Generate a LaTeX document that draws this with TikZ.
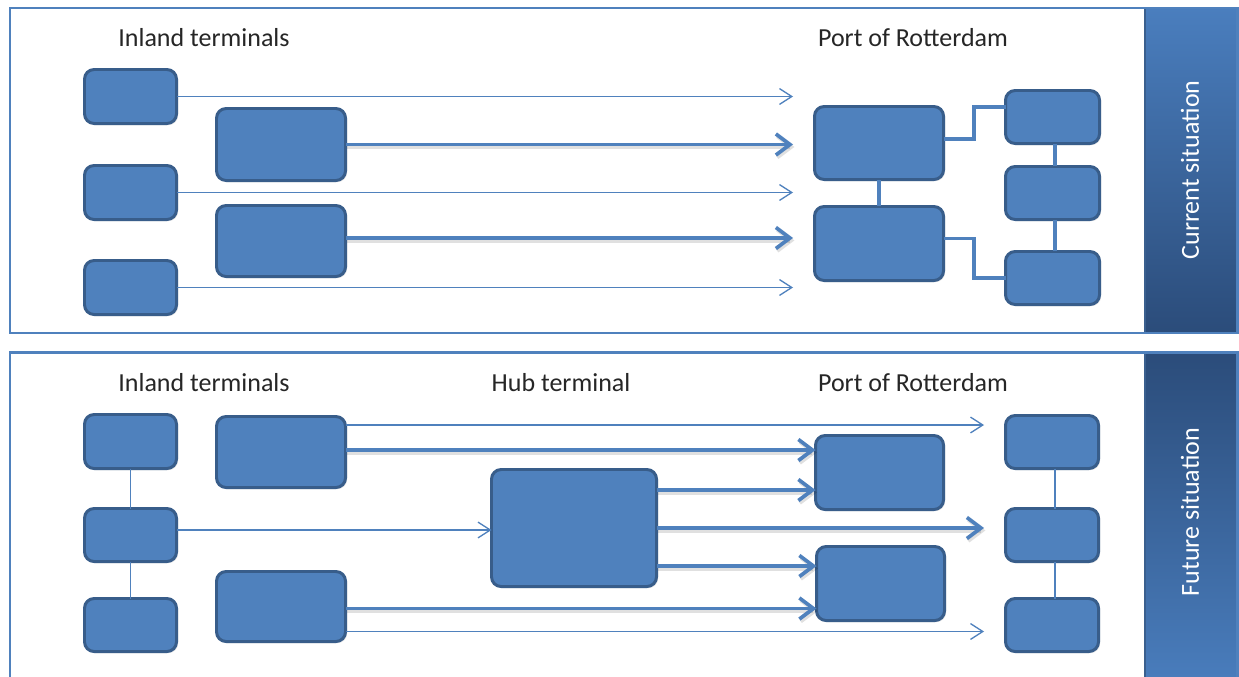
\documentclass[tikz,border=0pt]{standalone}
\usepackage{fontspec}
\setmainfont{Carlito}
\usetikzlibrary{arrows.meta,calc,shadows}
\definecolor{boxfill}{HTML}{4F81BD}
\definecolor{boxedge}{HTML}{385D8A}
\definecolor{linkblue}{HTML}{4F81BD}
\definecolor{barlight}{HTML}{4A7EBE}
\definecolor{bardark}{HTML}{2B4C7A}
\definecolor{baredge}{HTML}{3A5F8E}

% a terminal block: name, centre x, centre y, outer width, outer height (in px units)
\newcommand\termbox[5]{%
  \node[blk, minimum width={#4*0.02cm-1.7pt}, minimum height={#5*0.02cm-1.7pt}] (#1) at (#2,#3) {};}

\begin{document}
\begin{tikzpicture}[x=0.02cm,y=-0.02cm,
  blk/.style={draw=boxedge, fill=boxfill, line width=1.7pt, rounded corners=5.5pt,
    inner sep=0pt, outer sep=0pt,
    drop shadow={opacity=0.22, shadow xshift=0.9pt, shadow yshift=-0.9pt}},
  thinarrow/.style={draw=linkblue, line width=0.75pt,
    -{Straight Barb[length=7pt, width=9pt, line width=0.75pt]}},
  thickarrow/.style={draw=linkblue, line width=2.1pt,
    -{Straight Barb[length=8pt, width=12pt, line width=2.1pt]},
    preaction={draw=black, draw opacity=0.12, line width=2.6pt, transform canvas={xshift=0.8pt, yshift=-1.4pt}}},
  link/.style={draw=linkblue, line width=2.1pt},
  thinlink/.style={draw=linkblue, line width=0.75pt},
  frame/.style={draw=linkblue, line width=1.7pt},
  head/.style={font=\fontsize{14.8pt}{17pt}\selectfont, text=black!85, inner sep=0pt},
  side/.style={font=\fontsize{14.8pt}{17pt}\selectfont, text=white, rotate=90, inner sep=0pt}]

\useasboundingbox (0,0) rectangle (1239,676);
\clip (0,0) rectangle (1239,676);
\fill[white] (0,0) rectangle (1239,676);

% ---------- panel frames with side bars ----------
\shade[top color=barlight, bottom color=bardark] (1145,8) rectangle (1237,333);
\shade[top color=bardark, bottom color=barlight] (1145,352) rectangle (1237,690);
\draw[draw=baredge, line width=1.6pt] (1145,8) -- (1145,333);
\draw[draw=baredge, line width=1.6pt] (1145,352) -- (1145,690);
\draw[frame] (10,8) rectangle (1237,333);
\draw[frame] (10,352) rectangle (1237,690);

\node[side] (cur) at (1190,170) {Current situation};
\node[side] (fut) at (1190,512) {Future situation};

% ---------- current situation ----------
\node[head] (inl1) at (204,38) {Inland terminals};
\node[head] (por1) at (913,38) {Port of Rotterdam};

\termbox{s1}{130.5}{96.5}{95}{57}
\termbox{s2}{130.5}{192.5}{95}{57}
\termbox{s3}{130.5}{287.5}{95}{57}
\termbox{l1}{281}{144.5}{132}{75}
\termbox{l2}{281}{241}{132}{74}
\termbox{p1}{879}{143}{132}{76}
\termbox{p2}{879}{243.5}{132}{77}
\termbox{r1}{1052.5}{117}{97}{56}
\termbox{r2}{1052.5}{193}{97}{56}
\termbox{r3}{1052.5}{278}{97}{56}

\coordinate (tipA) at (793,0);
\draw[thinarrow] (s1.east) -- (s1.east -| tipA);
\draw[thinarrow] (s2.east) -- (s2.east -| tipA);
\draw[thinarrow] (s3.east) -- (s3.east -| tipA);
\draw[thickarrow] (l1.east) -- (l1.east -| tipA);
\draw[thickarrow] ($(l2.east)+(0,-3)$) -- ($(l2.east -| tipA)+(0,-3)$);

\coordinate (jog) at (974,0);
\draw[link] (p1.south) -- (p2.north);
\draw[link] ($(p1.east)+(0,-4)$) -- ($(p1.east -| jog)+(0,-4)$) |- ($(r1.west)+(0,-10)$);
\draw[link] ($(p2.east)+(0,-5)$) -- ($(p2.east -| jog)+(0,-5)$) |- (r3.west);
\draw[link] ($(r1.south)+(2.5,0)$) -- ($(r2.north)+(2.5,0)$);
\draw[link] ($(r2.south)+(2.5,0)$) -- ($(r3.north)+(2.5,0)$);

% ---------- future situation ----------
\node[head] (inl2) at (204,383) {Inland terminals};
\node[head] (hubt) at (561,383) {Hub terminal};
\node[head] (por2) at (913,383) {Port of Rotterdam};

\termbox{s4}{130.5}{441.5}{95}{57}
\termbox{s5}{130.5}{535}{95}{56}
\termbox{s6}{130.5}{625}{95}{56}
\termbox{l3}{281}{452}{132}{74}
\termbox{l4}{281}{606.5}{132}{73}
\termbox{h}{574}{528}{168}{120}
\termbox{p3}{879.5}{472.5}{131}{77}
\termbox{p4}{880.5}{583.5}{131}{77}
\termbox{r4}{1052}{442}{96}{56}
\termbox{r5}{1052}{535}{96}{56}
\termbox{r6}{1052}{625}{96}{56}

\draw[thinlink] (s4.south) -- (s5.north);
\draw[thinlink] (s5.south) -- (s6.north);
\draw[thinlink] ($(r4.south)+(3,0)$) -- ($(r5.north)+(3,0)$);
\draw[thinlink] ($(r5.south)+(3,0)$) -- ($(r6.north)+(3,0)$);

\coordinate (tipB) at (984,0);
\draw[thinarrow] ($(l3.east)+(0,-27)$) -- ($(l3.east -| tipB)+(0,-27)$);
\draw[thickarrow] ($(l3.east)+(0,-2)$) -- ($(l3.east -| p3.west)+(0,-2)$);
\draw[thickarrow] ($(h.east)+(0,-38)$) -- ($(h.east -| p3.west)+(0,-38)$);
\draw[thickarrow] (h.east) -- (h.east -| tipB);
\draw[thickarrow] ($(h.east)+(0,38)$) -- ($(h.east -| p4.west)+(0,38)$);
\draw[thickarrow] ($(l4.east)+(0,2)$) -- ($(l4.east -| p4.west)+(0,2)$);
\draw[thinarrow] ($(l4.east)+(0,25)$) -- ($(l4.east -| tipB)+(0,25)$);
\draw[thinarrow] ($(s5.east)+(0,-5)$) -- ($(s5.east -| h.west)+(0,-5)$);
\end{tikzpicture}
\end{document}
